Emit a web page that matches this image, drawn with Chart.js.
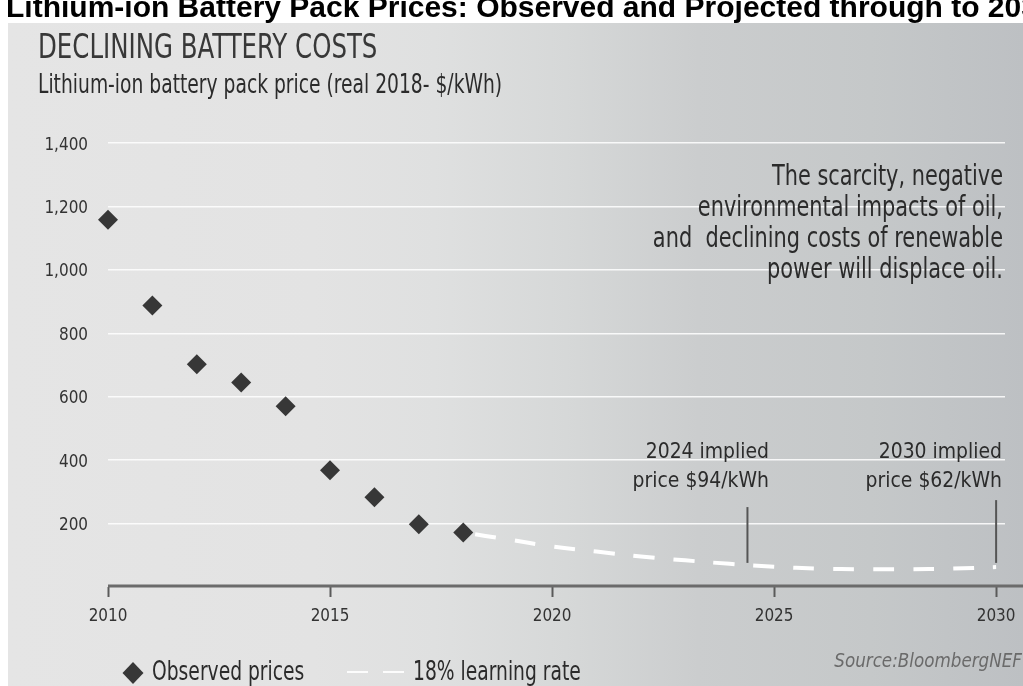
<!DOCTYPE html>
<html>
<head>
<meta charset="utf-8">
<script src="https://cdn.jsdelivr.net/npm/chart.js@4.4.0/dist/chart.umd.min.js"></script>
<style>
  html, body { margin: 0; padding: 0; background: #fff; }
  #wrap { width: 1023px; height: 686px; }
</style>
</head>
<body>
<div id="wrap"><canvas id="chart"></canvas></div>
<script>
// data
const years = [2010, 2011, 2012, 2013, 2014, 2015, 2016, 2017, 2018];
const observedPrices = [1158, 888, 702, 645, 570, 368, 283, 198, 172];
const projectionYears = [2018, 2019, 2020, 2021, 2022, 2023, 2024, 2025, 2026, 2027, 2028, 2029, 2030];
const projectedPrices = [172, 150, 128, 112, 96, 84, 73, 64, 58, 56, 56, 58, 63];
const xTicks = [2010, 2015, 2020, 2025, 2030];
const yTicks = [200, 400, 600, 800, 1000, 1200, 1400];
const seriesNames = ["Observed prices", "18% learning rate"];

// annotation markers (data units)
const impliedYears = [2024.4, 2030];
const impliedTop = [252, 274];
const impliedBottom = [76, 76];
const impliedLabels = [["2024 implied", "price $94/kWh"], ["2030 implied", "price $62/kWh"]];
const noteLines = ["The scarcity, negative", "environmental impacts of oil,", "and  declining costs of renewable", "power will displace oil."];

const FAMILY = '"DejaVu Sans Condensed", "DejaVu Sans", sans-serif';
const INK = "#2b2b2b";

// condensed text: size in px, sx = horizontal squeeze
function txt(ctx, s, x, y, size, sx, color, align, style) {
  ctx.save();
  ctx.font = (style || "") + " " + size + "px " + FAMILY;
  ctx.fillStyle = color;
  ctx.textAlign = align || "left";
  ctx.textBaseline = "alphabetic";
  ctx.translate(x, y);
  ctx.scale(sx, 1);
  ctx.fillText(s, 0, 0);
  ctx.restore();
}

const decor = {
  id: "decor",
  beforeDraw(chart) {
    const { ctx, width, height } = chart;
    ctx.save();
    ctx.fillStyle = "#ffffff";
    ctx.fillRect(0, 0, width, height);

    const g = ctx.createLinearGradient(8, 0, width, 0);
    g.addColorStop(0, "#e5e5e5");
    g.addColorStop(0.3, "#e3e3e3");
    g.addColorStop(0.42, "#dfe0e0");
    g.addColorStop(0.55, "#d6d8d8");
    g.addColorStop(0.68, "#cbcdce");
    g.addColorStop(0.85, "#c5c8c9");
    g.addColorStop(1, "#bdc0c3");
    ctx.fillStyle = g;
    ctx.fillRect(8, 23, width - 8, height - 23);

    // page title, clipped at the top edge
    ctx.font = 'bold 30px "Liberation Sans", Arial, sans-serif';
    ctx.fillStyle = "#000";
    ctx.textBaseline = "alphabetic";
    ctx.fillText("Lithium-ion Battery Pack Prices: Observed and Projected through to 2030", 6, 17);
    ctx.restore();

    txt(ctx, "DECLINING BATTERY COSTS", 38, 58, 34, 0.8, "#383838");
    txt(ctx, "Lithium-ion battery pack price (real 2018- $/kWh)", 38, 93, 26, 0.8, INK);
  },
  afterDraw(chart) {
    const { ctx, width, chartArea } = chart;
    const xs = chart.scales.x;
    const ys = chart.scales.y;

    // x axis line running to the edge
    ctx.save();
    ctx.strokeStyle = "#6b6b6b";
    ctx.lineWidth = 3;
    ctx.beginPath();
    ctx.moveTo(chartArea.left, chartArea.bottom - 1);
    ctx.lineTo(width, chartArea.bottom - 1);
    ctx.stroke();
    ctx.restore();

    xs.ticks.forEach((t) => txt(ctx, String(t.value), xs.getPixelForValue(t.value), 621, 18, 0.94, "#333", "center"));
    ys.ticks.forEach((t) =>
      txt(ctx, t.value.toLocaleString("en-US"), chartArea.left - 20, ys.getPixelForValue(t.value) + 6.5, 18, 0.94, "#333", "right")
    );

    // implied price markers
    ctx.save();
    ctx.strokeStyle = "#555";
    ctx.lineWidth = 2;
    impliedYears.forEach((yr, i) => {
      const x = xs.getPixelForValue(yr);
      ctx.beginPath();
      ctx.moveTo(x, ys.getPixelForValue(impliedTop[i]));
      ctx.lineTo(x, ys.getPixelForValue(impliedBottom[i]));
      ctx.stroke();
    });
    ctx.restore();
    txt(ctx, impliedLabels[0][0], 769, 458, 22, 0.95, INK, "right");
    txt(ctx, impliedLabels[0][1], 769, 487, 22, 0.95, INK, "right");
    txt(ctx, impliedLabels[1][0], 1002, 458, 22, 0.95, INK, "right");
    txt(ctx, impliedLabels[1][1], 1002, 487, 22, 0.95, INK, "right");

    noteLines.forEach((line, i) => txt(ctx, line, 1003, 185 + i * 31, 29, 0.8, INK, "right"));

    // legend
    ctx.save();
    ctx.fillStyle = "#373737";
    ctx.beginPath();
    ctx.moveTo(133, 662);
    ctx.lineTo(143.5, 673);
    ctx.lineTo(133, 684);
    ctx.lineTo(122.5, 673);
    ctx.closePath();
    ctx.fill();
    ctx.strokeStyle = "rgba(255,255,255,0.9)";
    ctx.lineWidth = 2;
    ctx.setLineDash([21, 15]);
    ctx.beginPath();
    ctx.moveTo(347, 672);
    ctx.lineTo(404, 672);
    ctx.stroke();
    ctx.restore();
    txt(ctx, seriesNames[0], 152, 680, 26, 0.8, INK);
    txt(ctx, seriesNames[1], 413, 680, 26, 0.8, INK);

    txt(ctx, "Source:BloombergNEF", 1022, 667, 19, 0.98, "#6a6a6a", "right", "italic");
  },
};

new Chart(document.getElementById("chart"), {
  type: "line",
  data: {
    datasets: [
      {
        label: seriesNames[0],
        data: years.map((x, i) => ({ x: x, y: observedPrices[i] })),
        showLine: false,
        clip: false,
        pointStyle: "rectRot",
        pointRadius: 10,
        pointHoverRadius: 10,
        pointBackgroundColor: "#373737",
        pointBorderWidth: 0,
        order: 0,
      },
      {
        label: seriesNames[1],
        data: projectionYears.map((x, i) => ({ x: x, y: projectedPrices[i] })),
        borderColor: "#ffffff",
        borderWidth: 4,
        borderDash: [21, 19],
        borderDashOffset: 28,
        pointRadius: 0,
        tension: 0.4,
        fill: false,
        order: 1,
      },
    ],
  },
  options: {
    responsive: true,
    maintainAspectRatio: false,
    animation: false,
    devicePixelRatio: 1,
    events: [],
    layout: { padding: { left: 38, right: 18, top: 143, bottom: 59 } },
    plugins: {
      legend: { display: false },
      tooltip: { enabled: false },
    },
    scales: {
      x: {
        type: "linear",
        min: 2010,
        max: 2030.2,
        afterBuildTicks: (s) => {
          s.ticks = xTicks.map((v) => ({ value: v }));
        },
        afterFit: (s) => {
          s.height = 40;
        },
        grid: { drawOnChartArea: false, drawTicks: true, tickLength: 10, tickColor: "#5a5a5a", tickWidth: 2 },
        border: { display: false },
        ticks: { display: false },
      },
      y: {
        min: 0,
        max: 1400,
        afterBuildTicks: (s) => {
          s.ticks = yTicks.map((v) => ({ value: v }));
        },
        afterFit: (s) => {
          s.width = 70;
        },
        grid: { color: "rgba(255,255,255,0.85)", lineWidth: 1.5, drawTicks: false },
        border: { display: false },
        ticks: { display: false },
      },
    },
  },
  plugins: [decor],
});
</script>
</body>
</html>
